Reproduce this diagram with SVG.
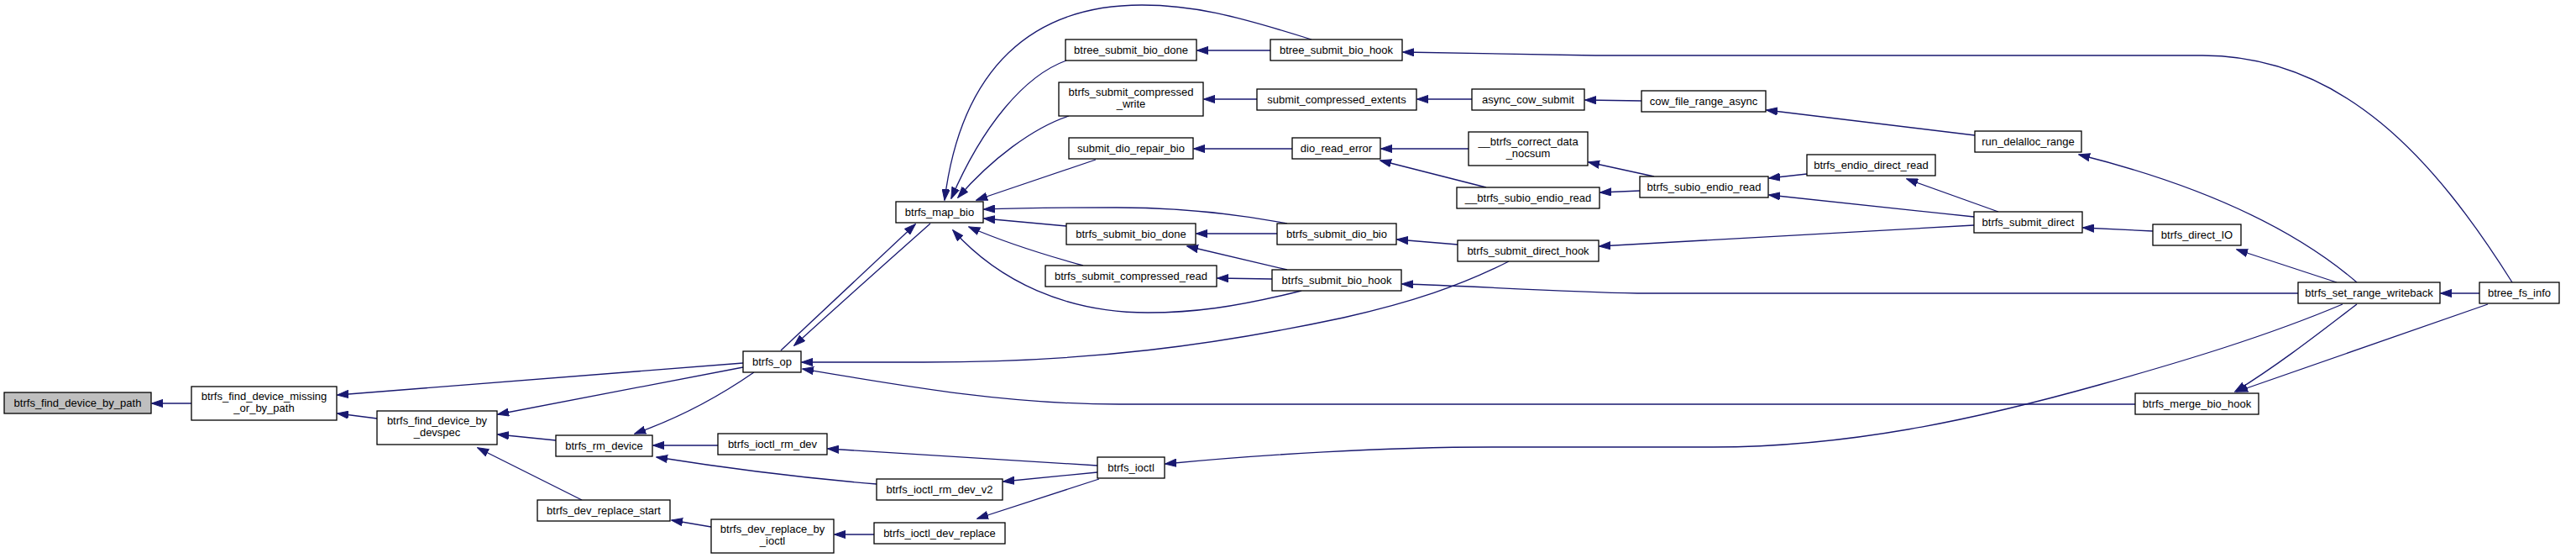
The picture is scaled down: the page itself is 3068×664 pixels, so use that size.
<svg xmlns="http://www.w3.org/2000/svg" width="3068" height="664" viewBox="0 0 3068 664">
<defs>
<style>
.n rect{fill:#fff;stroke:#000;stroke-width:1.3}
.n.root rect{fill:#bfbfbf}
.n text{font-family:"Liberation Sans",Arial,Helvetica,sans-serif;font-size:13px;text-anchor:middle;fill:#000}
#edges path{fill:none;stroke:#191970;stroke-width:1.3;marker-end:url(#ah)}
</style>
<marker id="ah" markerUnits="userSpaceOnUse" markerWidth="14" markerHeight="10" refX="13" refY="5" orient="auto"><path d="M0,0.4 L13.5,5 L0,9.6 z" fill="#191970" stroke="#191970" stroke-width="1"/></marker>
</defs>
<rect width="3068" height="664" fill="#fff"/>
<g id="edges">
<path d="M228,480 L181,480"/>
<path d="M885,432 L402,470"/>
<path d="M449,498 L402,492"/>
<path d="M885,437 L593,493"/>
<path d="M662,524 L593,517"/>
<path d="M693,595 L569,533"/>
<path d="M898,443 Q830,490 756,516"/>
<path d="M855,530 L778,530"/>
<path d="M1044,576 C960,569 870,558 782,544"/>
<path d="M847,627 L800,619"/>
<path d="M1307,554 L986,534"/>
<path d="M1307,562 L1195,573"/>
<path d="M1309,570 L1164,617"/>
<path d="M1041,636 L994,636"/>
<path d="M2790,362 C2700,400 2600,430 2500,458 C2350,500 2200,532 2040,532 L1777,532 C1650,532 1500,541 1388,552"/>
<path d="M930,417 L1090,267"/>
<path d="M1108,266 Q1030,335 946,411"/>
<path d="M1562,47 C1470,18 1420,6 1360,6 C1230,6 1145,80 1125,238"/>
<path d="M1270,72 C1220,90 1170,150 1133,236"/>
<path d="M1273,138 C1230,152 1180,190 1141,235"/>
<path d="M1305,190 L1163,238"/>
<path d="M1533,266 C1470,254 1400,247 1330,247 C1260,247 1200,248 1172,249"/>
<path d="M1270,269 L1172,260"/>
<path d="M1290,316 C1250,305 1200,290 1154,270"/>
<path d="M1550,346 C1470,366 1420,372 1367,372 C1270,372 1190,335 1135,274"/>
<path d="M1513,60 L1426,60"/>
<path d="M1497,118 L1434,118"/>
<path d="M1539,177 L1422,177"/>
<path d="M1521,278 L1425,278"/>
<path d="M1533,321 L1414,293"/>
<path d="M1515,332 L1450,331"/>
<path d="M2992,336 C2900,190 2790,66 2623,66 L1900,66 L1671,62"/>
<path d="M1753,118 L1688,118"/>
<path d="M1955,120 L1888,119"/>
<path d="M2352,161 L2104,131"/>
<path d="M2807,336 C2730,270 2620,220 2476,184"/>
<path d="M2783,336 L2664,297"/>
<path d="M2807,362 C2770,390 2720,430 2662,466"/>
<path d="M2963,362 L2664,466"/>
<path d="M2953,349 L2907,349"/>
<path d="M2737,349 L1950,349 C1850,347 1750,340 1670,338"/>
<path d="M2543,481 L1333,481 C1200,481 1080,460 956,439"/>
<path d="M1797,311 C1740,340 1680,360 1600,378 C1450,410 1300,431 1100,431 L955,431"/>
<path d="M1736,291 L1664,285"/>
<path d="M2351,268 L1905,293"/>
<path d="M2351,258 L2107,232"/>
<path d="M2152,207 L2107,212"/>
<path d="M2380,252 L2271,213"/>
<path d="M2564,275 L2481,271"/>
<path d="M1970,210 L1892,193"/>
<path d="M1953,227 L1906,229"/>
<path d="M1749,177 L1645,177"/>
<path d="M1770,223 L1644,191"/>
</g>
<g id="n_path" class="n root"><rect x="5" y="467" width="175" height="25"/><text x="92.5" y="484">btrfs_find_device_by_path</text></g>
<g id="n_missing" class="n"><rect x="228" y="460" width="173" height="40"/><text x="314.5" y="475.5">btrfs_find_device_missing</text><text x="314.5" y="490">_or_by_path</text></g>
<g id="n_devspec" class="n"><rect x="449" y="489" width="143" height="40"/><text x="520.5" y="504.5">btrfs_find_device_by</text><text x="520.5" y="519">_devspec</text></g>
<g id="n_op" class="n"><rect x="885" y="418" width="69" height="25"/><text x="919.5" y="435">btrfs_op</text></g>
<g id="n_rm" class="n"><rect x="662" y="518" width="115" height="25"/><text x="719.5" y="535">btrfs_rm_device</text></g>
<g id="n_rmdev" class="n"><rect x="855" y="516" width="130" height="25"/><text x="920" y="533">btrfs_ioctl_rm_dev</text></g>
<g id="n_rstart" class="n"><rect x="640" y="595" width="158" height="25"/><text x="719" y="612">btrfs_dev_replace_start</text></g>
<g id="n_rbyioctl" class="n"><rect x="847" y="618" width="146" height="40"/><text x="920" y="633.5">btrfs_dev_replace_by</text><text x="920" y="648">_ioctl</text></g>
<g id="n_mapbio" class="n"><rect x="1067" y="240" width="104" height="25"/><text x="1119" y="257">btrfs_map_bio</text></g>
<g id="n_btdone" class="n"><rect x="1269" y="47" width="156" height="25"/><text x="1347" y="64">btree_submit_bio_done</text></g>
<g id="n_cwrite" class="n"><rect x="1261" y="98" width="172" height="40"/><text x="1347" y="113.5">btrfs_submit_compressed</text><text x="1347" y="128">_write</text></g>
<g id="n_repair" class="n"><rect x="1273" y="164" width="148" height="25"/><text x="1347" y="181">submit_dio_repair_bio</text></g>
<g id="n_biodone" class="n"><rect x="1270" y="266" width="154" height="25"/><text x="1347" y="283">btrfs_submit_bio_done</text></g>
<g id="n_cread" class="n"><rect x="1245" y="316" width="204" height="25"/><text x="1347" y="333">btrfs_submit_compressed_read</text></g>
<g id="n_ioctl" class="n"><rect x="1307" y="544" width="80" height="25"/><text x="1347" y="561">btrfs_ioctl</text></g>
<g id="n_rmv2" class="n"><rect x="1044" y="570" width="150" height="25"/><text x="1119" y="587">btrfs_ioctl_rm_dev_v2</text></g>
<g id="n_ioreplace" class="n"><rect x="1041" y="622" width="156" height="25"/><text x="1119" y="639">btrfs_ioctl_dev_replace</text></g>
<g id="n_bthook" class="n"><rect x="1513" y="47" width="157" height="25"/><text x="1591.5" y="64">btree_submit_bio_hook</text></g>
<g id="n_cext" class="n"><rect x="1497" y="106" width="190" height="25"/><text x="1592" y="123">submit_compressed_extents</text></g>
<g id="n_async" class="n"><rect x="1753" y="106" width="134" height="25"/><text x="1820" y="123">async_cow_submit</text></g>
<g id="n_cowasync" class="n"><rect x="1955" y="108" width="148" height="25"/><text x="2029" y="125">cow_file_range_async</text></g>
<g id="n_dioerr" class="n"><rect x="1539" y="164" width="105" height="25"/><text x="1591.5" y="181">dio_read_error</text></g>
<g id="n_nocsum" class="n"><rect x="1749" y="157" width="142" height="40"/><text x="1820" y="172.5">__btrfs_correct_data</text><text x="1820" y="187">_nocsum</text></g>
<g id="n_subio2" class="n"><rect x="1735" y="223" width="170" height="25"/><text x="1820" y="240">__btrfs_subio_endio_read</text></g>
<g id="n_subio" class="n"><rect x="1953" y="210" width="153" height="25"/><text x="2029.5" y="227">btrfs_subio_endio_read</text></g>
<g id="n_diobio" class="n"><rect x="1521" y="266" width="142" height="25"/><text x="1592" y="283">btrfs_submit_dio_bio</text></g>
<g id="n_dhook" class="n"><rect x="1736" y="286" width="168" height="25"/><text x="1820" y="303">btrfs_submit_direct_hook</text></g>
<g id="n_biohook" class="n"><rect x="1515" y="321" width="154" height="25"/><text x="1592" y="338">btrfs_submit_bio_hook</text></g>
<g id="n_delalloc" class="n"><rect x="2352" y="156" width="127" height="25"/><text x="2415.5" y="173">run_delalloc_range</text></g>
<g id="n_endio" class="n"><rect x="2152" y="184" width="153" height="25"/><text x="2228.5" y="201">btrfs_endio_direct_read</text></g>
<g id="n_sdirect" class="n"><rect x="2351" y="252" width="129" height="25"/><text x="2415.5" y="269">btrfs_submit_direct</text></g>
<g id="n_directio" class="n"><rect x="2564" y="267" width="105" height="25"/><text x="2616.5" y="284">btrfs_direct_IO</text></g>
<g id="n_setrange" class="n"><rect x="2737" y="336" width="169" height="25"/><text x="2821.5" y="353">btrfs_set_range_writeback</text></g>
<g id="n_fsinfo" class="n"><rect x="2953" y="336" width="95" height="25"/><text x="3000.5" y="353">btree_fs_info</text></g>
<g id="n_merge" class="n"><rect x="2543" y="468" width="147" height="25"/><text x="2616.5" y="485">btrfs_merge_bio_hook</text></g>
</svg>
